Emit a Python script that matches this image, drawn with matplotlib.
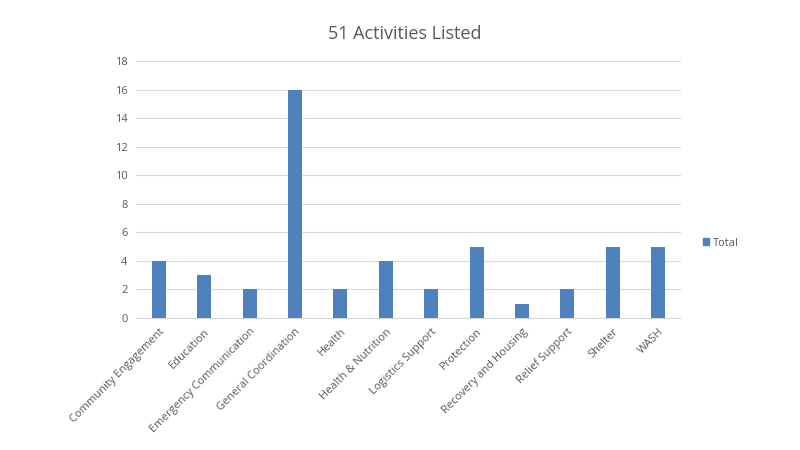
import matplotlib
matplotlib.use("Agg")
import matplotlib.pyplot as plt
from matplotlib.patches import Patch

categories = ["Community Engagement", "Education", "Emergency Communication",
              "General Coordination", "Health", "Health & Nutrition",
              "Logistics Support", "Protection", "Recovery and Housing",
              "Relief Support", "Shelter", "WASH"]
totals = [4, 3, 2, 16, 2, 4, 2, 5, 1, 2, 5, 5]
yticks = [0, 2, 4, 6, 8, 10, 12, 14, 16, 18]
title = "51 Activities Listed"
series_name = "Total"

plt.rcParams['font.family'] = ['Open Sans', 'DejaVu Sans']
text_color = "#595959"
bar_color = "#4F81BD"

fig = plt.figure(figsize=(8, 4.5), dpi=100)
ax = fig.add_axes([136/800, 1-318/450, (681-136)/800, (318-61)/450])

x = list(range(len(categories)))
ax.bar(x, totals, width=0.31, color=bar_color, zorder=3)
ax.set_xlim(-0.5, len(categories)-0.5)
ax.set_ylim(0, 18)
ax.set_yticks(yticks)
ax.set_yticklabels([str(v) for v in yticks], fontsize=8, color=text_color)
ax.set_xticks(x)
ax.set_xticklabels(categories, rotation=45, ha="right", rotation_mode="anchor",
                   fontsize=8, color=text_color)
ax.tick_params(axis="both", length=0, pad=6)
ax.grid(axis="y", color="#D9D9D9", linewidth=0.8, zorder=0)
for s in ["top", "right", "left"]:
    ax.spines[s].set_visible(False)
ax.spines["bottom"].set_color("#D9D9D9")

fig.text(405/800, 1-34/450, title, ha="center", va="center", fontsize=13, color=text_color)

ax.legend(handles=[Patch(color=bar_color, label=series_name)], loc="center left",
          bbox_to_anchor=(697/800, 1-243/450), bbox_transform=fig.transFigure,
          frameon=False, fontsize=8, handlelength=0.6, handleheight=0.6,
          handletextpad=0.3, labelcolor=text_color, borderpad=0)

fig.savefig("out.png", dpi=100, facecolor="white")
